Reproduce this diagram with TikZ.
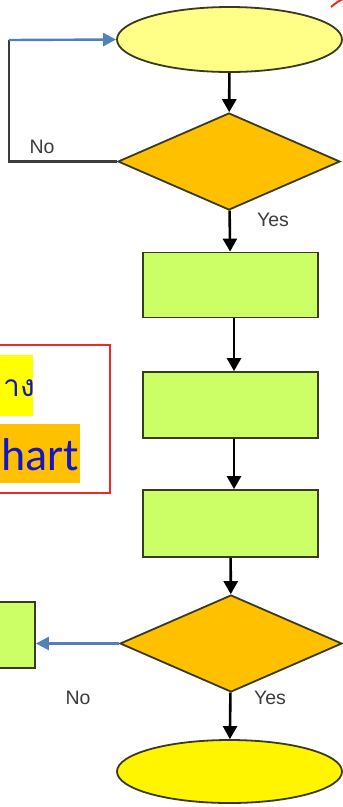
\documentclass[tikz,border=0pt]{standalone}
\usepackage{fontspec}
\setmainfont{Liberation Sans}
\newfontfamily\thaifont[Script=Thai]{Loma}
\newfontfamily\calfont{Carlito}
\usetikzlibrary{shapes.geometric,arrows.meta}
\definecolor{ellA}{HTML}{FFFF88}
\definecolor{ellB}{HTML}{FFF500}
\definecolor{dia}{HTML}{FFC000}
\definecolor{procfill}{HTML}{CCFF66}
\definecolor{bord}{HTML}{3A3A1E}
\definecolor{flowblue}{HTML}{4F81BD}
\definecolor{lbl}{HTML}{3C3C3C}
\definecolor{txtblue}{HTML}{1414C8}
\definecolor{hlyellow}{HTML}{FFFF00}
\definecolor{hlorange}{HTML}{FFC000}
\definecolor{boxred}{HTML}{F02828}
\tikzset{
  term/.style={ellipse, draw=bord, line width=1.8pt, inner sep=0pt},
  decis/.style={diamond, draw=bord, fill=dia, line width=1.8pt, inner sep=0pt, minimum width=222pt, minimum height=97pt},
  proc/.style={rectangle, draw=bord, fill=procfill, line width=1.8pt, inner sep=0pt, minimum width=175pt},
  flow/.style={draw=black, line width=2.6pt, -{Triangle[length=13pt,width=14pt]}},
  blueflow/.style={draw=flowblue, line width=2.4pt, -{Triangle[length=13pt,width=13pt]}},
  plainline/.style={draw=lbl, line width=2.4pt},
  yn/.style={font=\fontsize{19.5}{22}\selectfont, text=lbl, inner sep=0pt}
}
\begin{document}
\begin{tikzpicture}[x=1pt,y=-1pt]
\clip (0,0) rectangle (343,807);
\fill[white] (0,0) rectangle (343,807);
% terminals
\node[term, fill=ellA, minimum width=225pt, minimum height=65pt] (start) at (229.5,39.5) {};
\node[term, fill=ellB, minimum width=225pt, minimum height=63pt] (stop) at (229.5,771.5) {};
% decisions
\node[decis] (d1) at (229,161.5) {};
\node[decis] (d2) at (231,643.5) {};
% processes
\node[proc, minimum height=65pt] (r1) at (230.5,285) {};
\node[proc, minimum height=66pt] (r2) at (230.5,405) {};
\node[proc, minimum height=67pt] (r3) at (230.5,523.5) {};
\node[rectangle, draw=bord, fill=procfill, line width=1.8pt, minimum width=75pt, minimum height=66pt, inner sep=0pt] (left) at (-2.5,635) {};
% connectors
\draw[flow] (start) -- (d1);
\draw[flow] (d1) -- (r1);
\draw[flow] ([xshift=3.5pt]r1.south) -- ([xshift=3.5pt]r2.north);
\draw[flow] ([xshift=3.5pt]r2.south) -- ([xshift=3.5pt]r3.north);
\draw[flow] (r3) -- (d2);
\draw[flow] (d2) -- (stop);
\coordinate (c1) at (9,161.5);
\coordinate (c2) at (9,40);
\draw[plainline] (d1.west) -- (c1) -- (c2);
\draw[blueflow] (c2) -- (start.west);
\draw[blueflow] (d2.west) -- (d2.west -| left.east);
% labels
\node[yn] (no1) at (42,147) {No};
\node[yn] (yes1) at (273,220) {Yes};
\node[yn] (no2) at (78,698) {No};
\node[yn] (yes2) at (270,698) {Yes};
% red callout box
\node[draw=boxred, line width=1.3pt, minimum width=120pt, minimum height=148pt, inner sep=0pt] (box) at (50,419) {};
\fill[hlyellow] (-5,355) rectangle (33,416);
\fill[hlorange] (-5,424) rectangle (80,483);
\node[anchor=base west, inner sep=0pt, text=txtblue, font=\thaifont\fontsize{30}{36}\selectfont] (th) at (3,396) {าง};
\node[anchor=base east, inner sep=0pt, text=txtblue, font=\calfont\fontsize{46}{50}\selectfont] (hart) at (79,470) {hart};
% red fragment at top right
\draw[boxred, line width=2pt] (331,7) to[bend left=8] (345,-2);
\end{tikzpicture}
\end{document}
